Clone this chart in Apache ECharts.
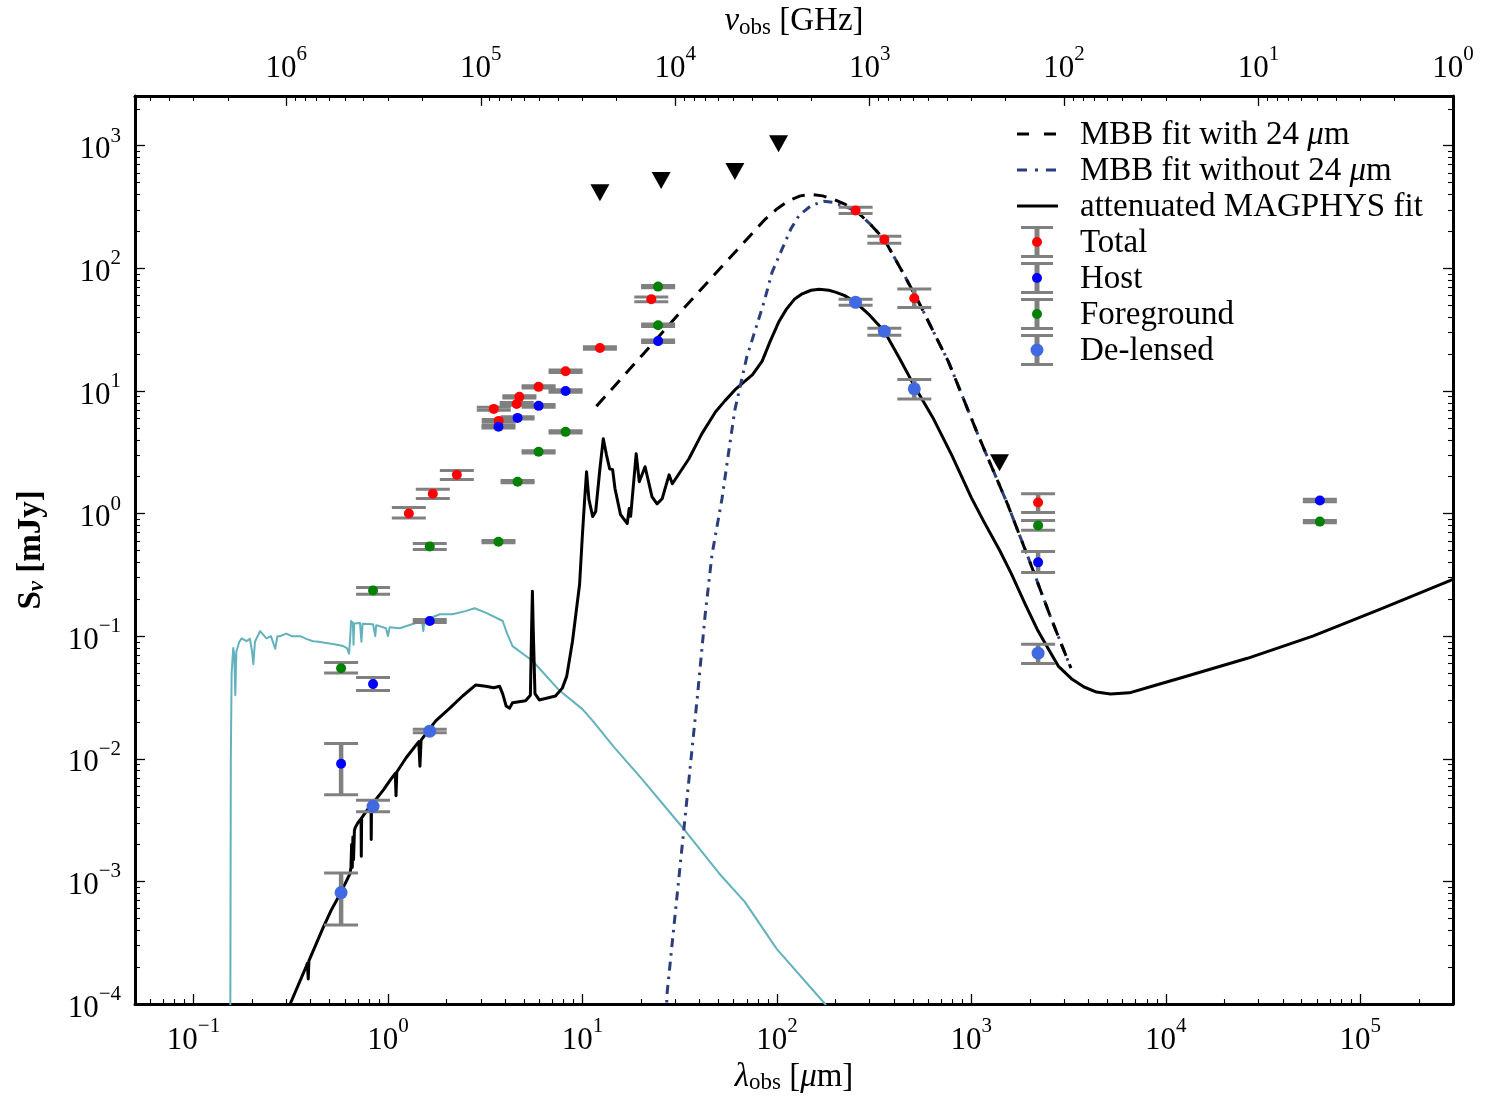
<!DOCTYPE html>
<html><head><meta charset="utf-8">
<script src="https://cdn.jsdelivr.net/npm/echarts@6/dist/echarts.min.js"></script>
<style>html,body{margin:0;padding:0;background:#fff}#c{width:1493px;height:1107px}</style>
</head><body><div id="c"></div>
<script>
// ---------------- data (lambda_obs [um], S_nu [mJy], lower, upper) ----------------
const totalPts = [
  [1.28,1.0,0.92,1.12],[1.70,1.45,1.33,1.58],[2.26,2.07,1.9,2.25],[3.5,7.14,6.95,7.35],
  [3.71,5.7,5.55,5.85],[4.59,7.84,7.65,8.05],[4.74,8.95,8.75,9.15],[5.95,10.8,10.55,11.05],
  [8.19,14.5,14.15,14.85],[12.3,22.4,21.9,22.9],[22.6,55.9,53.5,58.5],[254,297,280,315],
  [357,172,160,183],[509,57,48,68],[2205,1.23,1.02,1.45]
];
const hostPts = [
  [0.574,0.0091,0.0051,0.0133],[0.838,0.0407,0.036,0.046],[1.64,0.133,0.129,0.137],
  [3.7,5.1,4.98,5.22],[4.64,6.03,5.9,6.17],[5.95,7.56,7.38,7.74],[8.19,10.0,9.77,10.23],
  [24.5,25.5,24.9,26.1],[2205,0.40,0.33,0.49],[62000,1.28,1.25,1.31]
];
const foregroundPts = [
  [0.574,0.0548,0.050,0.061],[0.838,0.236,0.22,0.25],[1.64,0.54,0.51,0.57],[3.7,0.59,0.577,0.603],
  [4.64,1.82,1.78,1.86],[5.95,3.19,3.12,3.26],[8.19,4.64,4.54,4.74],[24.5,71,69.4,72.6],
  [24.5,34.4,33.6,35.2],[2205,0.80,0.73,0.88],[62000,0.86,0.84,0.88]
];
const delensedPts = [
  [0.574,0.00081,0.00044,0.00117],[0.838,0.0041,0.0037,0.0046],[1.64,0.0168,0.0163,0.0174],
  [254,52.8,50,56],[357,30.7,28.5,32.5],[509,10.4,8.6,12.4],[2205,0.0727,0.06,0.086]
];
const upperLimits = [[12.3,414],[25.4,520],[60.8,617],[102,1040],[1396,2.6]];

const mbbWith24 = [
  [11.8,7.5],[20.3,19.6],[32.5,45.5],[51.4,101],[66.3,157],[87,251],[100,305],[115,357],[132,390],[150,400],
  [172,390],[198,363],[225,332],[254,297],[300,232],[357,172],[452,88],[537,52.8],[764,17.2],[1083,4.38],
  [1540,1.18],[1970,0.43],[2570,0.14],[3250,0.055]
];
const mbbWithout24 = [
  [26.5,0.00005],[27.3,0.000126],[33.3,0.00274],[38.9,0.0307],[42.8,0.151],[46.4,0.464],
  [52.2,1.32],[57.5,3.85],[60.8,7.0],[70,18.9],[85.8,52.8],[94.4,92.7],[106,142],[118,210],[130,270],
  [150,325],[174,352],[195,345],[215,326],[254,297],[300,232],[357,172],[452,88],[537,52.8],[764,17.2],
  [1083,4.38],[1540,1.18],[1970,0.43],[2570,0.14],[3250,0.055]
];
const magphys = [
  [0.300,0.00007],[0.314,0.0001],[0.38,0.000203],[0.385,0.000215],[0.389,0.00016],[0.392,0.000225],
  [0.464,0.00042],[0.51,0.00058],[0.567,0.00079],[0.61,0.00100],[0.638,0.00116],[0.645,0.0013],
  [0.65,0.0020],[0.655,0.0013],[0.66,0.0023],[0.665,0.0015],[0.672,0.0026],[0.678,0.00274],
  [0.70,0.0030],[0.727,0.00325],[0.729,0.0016],[0.732,0.0033],[0.79,0.0039],[0.818,0.0041],
  [0.82,0.0022],[0.823,0.0042],[0.838,0.0043],[0.95,0.0056],[1.02,0.0066],[1.09,0.0076],
  [1.10,0.0050],[1.11,0.0078],[1.24,0.0102],[1.44,0.0138],[1.46,0.0087],[1.48,0.0142],
  [1.51,0.0148],[1.64,0.0176],[1.76,0.0204],[2.08,0.0259],[2.42,0.0325],[2.83,0.040],
  [3.18,0.039],[3.5,0.038],[3.75,0.039],[3.89,0.0338],[4.05,0.027],[4.22,0.0259],[4.37,0.0286],
  [5.1,0.0297],[5.4,0.033],[5.48,0.12],[5.53,0.232],[5.58,0.12],[5.7,0.034],[6.0,0.0302],
  [7.27,0.0325],[7.88,0.0377],[8.3,0.047],[8.89,0.091],[9.67,0.265],[10,0.675],[10.25,1.25],
  [10.5,2.19],[10.8,1.3],[11.3,0.945],[11.7,1.04],[12.3,2.32],[12.8,4.07],[13.3,3.0],[13.8,2.32],
  [14.3,2.28],[14.7,1.6],[15.7,0.98],[17.0,0.83],[17.4,1.1],[17.7,0.95],[18.9,3.08],[19.6,1.82],
  [21.0,2.41],[22.8,1.37],[24.2,1.2],[25.7,1.32],[26.6,1.6],[27.9,2.07],[29.0,1.75],[35.3,2.8],
  [41.1,4.47],[48.3,6.74],[54,8.3],[60.8,10.2],[66,11.4],[75,13.6],[84,17.5],[92,25],[102,36.3],
  [112,46.5],[123,55.9],[135,62],[150,66.3],[165,67.5],[185,66.3],[200,64],[222,60.2],[254,52.8],
  [300,41.5],[357,30.7],[427,18.5],[509,11.0],[640,5.9],[793,3.0],[1000,1.35],[1160,0.86],
  [1400,0.5],[1603,0.325],[1900,0.18],[2205,0.11],[2500,0.078],[2800,0.057],[3300,0.0445],
  [3800,0.0385],[4400,0.035],[5200,0.0338],[6500,0.0345],[8500,0.039],[11900,0.0456],[26300,0.066],
  [57000,0.1],[127000,0.166],[300000,0.29]
];
const foregroundSED = [
  [0.1545,0.00005],[0.1555,0.01],[0.157,0.05],[0.160,0.08],[0.162,0.07],[0.164,0.033],[0.166,0.075],
  [0.172,0.09],[0.177,0.096],[0.187,0.091],[0.195,0.095],[0.200,0.075],[0.203,0.059],[0.207,0.09],
  [0.22,0.11],[0.237,0.096],[0.25,0.1],[0.263,0.079],[0.27,0.1],[0.279,0.1],[0.30,0.105],[0.32,0.1],
  [0.354,0.1],[0.38,0.095],[0.412,0.091],[0.44,0.09],[0.481,0.088],[0.53,0.086],[0.588,0.083],
  [0.615,0.08],[0.631,0.072],[0.64,0.1],[0.646,0.133],[0.66,0.128],[0.665,0.085],[0.67,0.127],
  [0.718,0.128],[0.73,0.09],[0.74,0.126],[0.838,0.125],[0.86,0.1],[0.87,0.123],[0.977,0.116],
  [1.0,0.1],[1.02,0.118],[1.15,0.116],[1.39,0.128],[1.5,0.13],[1.52,0.11],[1.54,0.135],[1.57,0.14],
  [1.85,0.151],[2.15,0.151],[2.5,0.16],[2.79,0.169],[3.2,0.155],[3.89,0.133],[4.1,0.105],[4.37,0.083],
  [5.53,0.063],[7.62,0.036],[10,0.0254],[11.3,0.0204],[14.5,0.0125],[20.3,0.0068],[33.7,0.0026],
  [50.5,0.00116],[68.4,0.00068],[100,0.00028],[177,0.0001],[200,0.00007]
];

// ---------------- styling ----------------
const FONT = '"Liberation Serif", serif';
const C_NAVY = '#2b3d7b', C_CYAN = '#62b2bd', C_GRAY = '#808080';
const tickRich = {
  b: {fontFamily: FONT, fontSize: 31, lineHeight: 40, verticalAlign: 'bottom', color: '#000'},
  s: {fontFamily: FONT, fontSize: 21, lineHeight: 16, verticalAlign: 'top', color: '#000'}
};
function powFmt(v) {
  const e = Math.log10(v), r = Math.round(e);
  if (Math.abs(e - r) > 1e-6) return '';
  return '{b|10}{s|' + (r < 0 ? '\u2212' + (-r) : r) + '}';
}
const nameRich = {
  g: {fontFamily: FONT, fontSize: 33, fontStyle: 'italic', lineHeight: 34, verticalAlign: 'top', color: '#000'},
  n: {fontFamily: FONT, fontSize: 33, lineHeight: 34, verticalAlign: 'top', color: '#000'},
  sub: {fontFamily: FONT, fontSize: 23, lineHeight: 16, verticalAlign: 'bottom', color: '#000'},
  gb: {fontFamily: FONT, fontSize: 33, fontWeight: 'bold', lineHeight: 34, verticalAlign: 'top', color: '#000'},
  subb: {fontFamily: FONT, fontSize: 23, fontStyle: 'italic', fontWeight: 'bold', lineHeight: 16, verticalAlign: 'bottom', color: '#000'}
};
function axisCommon() {
  return {
    splitLine: {show: false},
    axisLine: {show: true, onZero: false, lineStyle: {color: '#000', width: 3}},
    axisTick: {show: true, inside: true, length: 10, lineStyle: {color: '#000', width: 1.3}},
    minorTick: {show: true, splitNumber: 9, length: 5, lineStyle: {color: '#000', width: 1.1}},
    minorSplitLine: {show: false}
  };
}

function errSeries(pts) {
  return {
    type: 'custom', xAxisIndex: 0, yAxisIndex: 0, z: 3, silent: true, clip: true,
    data: pts.map(p => [p[0], p[1], p[2], p[3]]),
    encode: {x: 0, y: 1},
    renderItem: function (params, api) {
      const x = api.value(0);
      const pLo = api.coord([x, api.value(2)]), pHi = api.coord([x, api.value(3)]);
      const w = 17;
      const cap = {stroke: C_GRAY, lineWidth: 3};
      return {type: 'group', children: [
        {type: 'line', shape: {x1: pLo[0], y1: pLo[1], x2: pHi[0], y2: pHi[1]}, style: {stroke: C_GRAY, lineWidth: 4.5}},
        {type: 'line', shape: {x1: pLo[0] - w, y1: pLo[1], x2: pLo[0] + w, y2: pLo[1]}, style: cap},
        {type: 'line', shape: {x1: pHi[0] - w, y1: pHi[1], x2: pHi[0] + w, y2: pHi[1]}, style: cap}
      ]};
    }
  };
}
function ptSeries(pts, color, size) {
  return {type: 'scatter', xAxisIndex: 0, yAxisIndex: 0, z: 5, silent: true,
    data: pts.map(p => [p[0], p[1]]), symbol: 'circle', symbolSize: size,
    itemStyle: {color: color, opacity: 1}};
}
function lineSeries(data, color, width, type, z) {
  return {type: 'line', xAxisIndex: 0, yAxisIndex: 0, data: data, showSymbol: false, symbol: 'none',
    smooth: false, clip: true, z: z, silent: true,
    lineStyle: {color: color, width: width, type: type, cap: 'butt', join: 'round'}};
}

// ---------------- legend (drawn as graphic) ----------------
const LEG_ROWS = [134, 170, 206, 242, 278, 314, 350];
const LEG_SIZE = 33;
const legFont = LEG_SIZE + 'px "Liberation Serif", serif';
const legendEls = [];
legendEls.push({type: 'line', shape: {x1: 1017, y1: LEG_ROWS[0], x2: 1058, y2: LEG_ROWS[0]}, style: {stroke: '#000', lineWidth: 3, lineDash: [12, 15]}});
legendEls.push({type: 'line', shape: {x1: 1017, y1: LEG_ROWS[1], x2: 1058, y2: LEG_ROWS[1]}, style: {stroke: C_NAVY, lineWidth: 3, lineDash: [10, 8, 3, 8]}});
legendEls.push({type: 'line', shape: {x1: 1017, y1: LEG_ROWS[2], x2: 1058, y2: LEG_ROWS[2]}, style: {stroke: '#000', lineWidth: 3}});
const legPtColors = ['#ff0000', '#0000ff', '#008000', '#4169e1'];
for (let i = 0; i < 4; i++) {
  const y = LEG_ROWS[3 + i];
  legendEls.push({type: 'line', shape: {x1: 1037, y1: y - 14.5, x2: 1037, y2: y + 14.5}, style: {stroke: C_GRAY, lineWidth: 5}});
  legendEls.push({type: 'line', shape: {x1: 1021, y1: y - 14.5, x2: 1053, y2: y - 14.5}, style: {stroke: C_GRAY, lineWidth: 3}});
  legendEls.push({type: 'line', shape: {x1: 1021, y1: y + 14.5, x2: 1053, y2: y + 14.5}, style: {stroke: C_GRAY, lineWidth: 3}});
  legendEls.push({type: 'circle', shape: {cx: 1037, cy: y, r: i === 3 ? 6.5 : 5}, style: {fill: legPtColors[i]}});
}
const legTexts = [
  'MBB fit with 24 {i|\u03bc}m', 'MBB fit without 24 {i|\u03bc}m', 'attenuated MAGPHYS fit',
  'Total', 'Host', 'Foreground', 'De-lensed'
];
legTexts.forEach((t, i) => {
  legendEls.push({type: 'text', x: 1080, y: LEG_ROWS[i] + 1, style: {
    text: t, font: legFont, fill: '#000', verticalAlign: 'middle', align: 'left',
    rich: {i: {fontFamily: FONT, fontSize: LEG_SIZE, fontStyle: 'italic', fill: '#000', color: '#000'}}
  }});
});

// ---------------- chart ----------------
const chart = echarts.init(document.getElementById('c'), null, {renderer: 'canvas'});
const option = {
  backgroundColor: '#fff',
  animation: false,
  grid: {left: 135, right: 40, top: 93, bottom: 103, containLabel: false},
  xAxis: [
    Object.assign(axisCommon(), {
      type: 'log', logBase: 10, min: 0.05, max: 3e5, position: 'bottom', splitNumber: 7,
      axisLabel: {formatter: powFmt, rich: tickRich, margin: 12, showMinLabel: true, showMaxLabel: true},
      name: '{g|\u03bb}{sub|obs}{n| [}{g|\u03bc}{n|m]}', nameLocation: 'middle', nameGap: 50,
      nameTextStyle: {rich: nameRich}
    }),
    Object.assign(axisCommon(), {
      type: 'log', logBase: 10, min: 1, max: 6e6, inverse: true, position: 'top', splitNumber: 7,
      axisLabel: {formatter: powFmt, rich: tickRich, margin: 12, showMinLabel: true, showMaxLabel: true},
      name: '{g|\u03bd}{sub|obs}{n| [GHz]}', nameLocation: 'middle', nameGap: 53,
      nameTextStyle: {rich: nameRich}
    })
  ],
  yAxis: [
    Object.assign(axisCommon(), {
      type: 'log', logBase: 10, min: 1e-4, max: 2550, position: 'left', splitNumber: 8,
      axisLabel: {formatter: powFmt, rich: tickRich, margin: 14},
      name: '{gb|S}{subb|\u03bd}{gb| [mJy]}', nameLocation: 'middle', nameGap: 86, nameRotate: 90,
      nameTextStyle: {rich: nameRich}
    }),
    Object.assign(axisCommon(), {
      type: 'log', logBase: 10, min: 1e-4, max: 2550, position: 'right', splitNumber: 8,
      axisLabel: {show: false}
    })
  ],
  graphic: legendEls,
  series: [
    lineSeries(foregroundSED, C_CYAN, 2, 'solid', 2),
    lineSeries(magphys, '#000', 3, 'solid', 2),
    lineSeries(mbbWithout24, C_NAVY, 3, [9, 6, 2.5, 6], 2),
    lineSeries(mbbWith24, '#000', 3, [13, 9], 2),
    errSeries(totalPts), errSeries(hostPts), errSeries(foregroundPts), errSeries(delensedPts),
    ptSeries(totalPts, '#ff0000', 10),
    ptSeries(hostPts, '#0000ff', 10),
    ptSeries(foregroundPts, '#008000', 10),
    ptSeries(delensedPts, '#4169e1', 13),
    {type: 'scatter', xAxisIndex: 0, yAxisIndex: 0, z: 5, silent: true, data: upperLimits,
     symbol: 'triangle', symbolRotate: 180, symbolSize: [19, 17], itemStyle: {color: '#000', opacity: 1}}
  ]
};
chart.setOption(option);
</script>
</body></html>
